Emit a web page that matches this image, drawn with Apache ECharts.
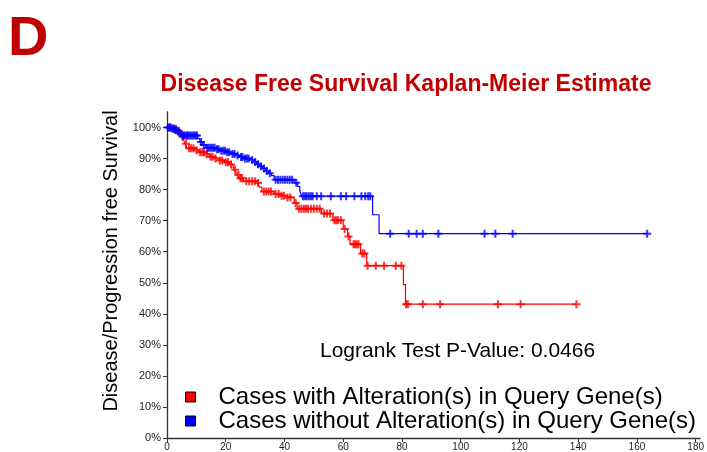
<!DOCTYPE html>
<html>
<head>
<meta charset="utf-8">
<script src="https://cdn.jsdelivr.net/npm/echarts@6/dist/echarts.min.js"></script>
<style>
html,body{margin:0;padding:0;background:#fff;}
#chart{width:707px;height:452px;}
</style>
</head>
<body>
<div id="chart"></div>
<script>
// ---- Data (months, survival %) ----
const xTicks = [0, 20, 40, 60, 80, 100, 120, 140, 160, 180];
const yTicks = [0, 10, 20, 30, 40, 50, 60, 70, 80, 90, 100];

// Cases with Alteration(s): step times and survival after each step
const redTimes = [0, 2.0, 3.5, 4.5, 5.0, 5.6, 6.2, 6.8, 9.5, 10.8, 13.0, 14.5, 16.0, 17.4, 19.5, 21.5, 22.5, 23.0, 23.5, 24.0, 24.6, 26.0, 30.8, 31.4, 32.3, 36.5, 38.5, 40.5, 43.3, 44.3, 52.6, 56.5, 60.0, 61.5, 62.3, 65.9, 68.0, 80.5, 81.2];
const redSurv  = [100, 99.6, 99.0, 98.0, 97.0, 96.0, 94.8, 93.3, 92.7, 92.0, 91.4, 90.6, 90.0, 89.4, 88.8, 88.1, 87.3, 86.4, 85.5, 84.7, 83.7, 82.7, 82.1, 80.8, 79.4, 78.6, 78.0, 77.5, 75.7, 73.8, 72.3, 70.1, 67.3, 64.9, 62.4, 59.4, 55.5, 49.4, 43.1];
const redEnd = 139.4;
const redCensored = [1.0, 2.5, 3.0, 4.0, 5.3, 6.5, 7.5, 8.2, 9.0, 10.0, 11.3, 12.0, 12.6, 13.5, 14.8, 15.5, 16.5, 18.0, 18.8, 20.0, 20.8, 21.8, 23.2, 24.3, 25.0, 25.5, 27.0, 28.0, 29.0, 30.0, 31.0, 33.0, 33.8, 34.6, 35.4, 37.0, 38.0, 39.0, 39.8, 41.0, 42.0, 43.8, 45.0, 45.8, 46.6, 47.3, 48.0, 49.0, 50.0, 51.0, 52.0, 53.5, 54.5, 55.5, 57.0, 57.6, 58.2, 59.2, 60.5, 61.8, 63.5, 64.0, 64.6, 65.2, 66.5, 67.2, 68.3, 71.1, 73.9, 77.9, 79.8, 81.4, 82.0, 87.1, 93.0, 112.7, 120.4, 139.4];

// Cases without Alteration(s)
const blueTimes = [0, 1.5, 2.5, 3.5, 4.3, 5.0, 10.5, 11.2, 12.0, 13.3, 16.5, 18.0, 20.0, 21.8, 23.5, 24.7, 26.0, 28.6, 29.5, 30.5, 31.4, 32.5, 33.7, 34.5, 35.5, 36.5, 43.3, 44.5, 45.2, 45.8, 70.0, 72.2];
const blueSurv  = [100, 99.7, 99.2, 98.7, 98.1, 97.4, 96.4, 95.3, 94.4, 93.5, 93.0, 92.5, 92.0, 91.5, 91.0, 90.5, 90.0, 89.5, 88.9, 88.2, 87.5, 86.8, 86.0, 85.3, 84.5, 83.2, 82.2, 81.0, 79.8, 77.9, 71.9, 65.8];
const blueEnd = 163.5;
const blueCensored = [0.3, 0.8, 1.2, 1.8, 2.2, 2.8, 3.2, 3.8, 4.6, 5.3, 5.8, 6.3, 6.8, 7.2, 7.7, 8.2, 8.8, 9.3, 9.8, 10.2, 11.6, 12.5, 13.7, 14.3, 15.0, 15.6, 16.2, 17.0, 17.6, 18.5, 19.2, 19.8, 20.5, 21.2, 22.3, 23.0, 24.0, 25.2, 25.7, 26.5, 27.2, 27.8, 29.0, 30.0, 31.0, 32.0, 33.0, 34.0, 35.0, 37.0, 37.8, 38.6, 39.4, 40.2, 41.0, 41.8, 42.6, 44.0, 46.3, 47.0, 47.6, 48.3, 49.0, 49.6, 51.0, 52.5, 55.8, 59.2, 61.0, 63.8, 66.2, 67.5, 68.5, 69.2, 76.0, 82.3, 85.0, 87.1, 92.4, 108.1, 111.8, 117.7, 163.5];

const seriesNames = ['Cases with Alteration(s) in Query Gene(s)', 'Cases without Alteration(s) in Query Gene(s)'];
const pValueText = 'Logrank Test P-Value: 0.0466';

// ---- helpers ----
function stepLine(times, surv, end) {
  const d = times.map((t, i) => [t, surv[i]]);
  d.push([end, surv[surv.length - 1]]);
  return d;
}
function survAt(times, surv, t) {
  let v = surv[0];
  for (let i = 0; i < times.length; i++) { if (times[i] <= t) v = surv[i]; }
  return v;
}
function censorPts(times, surv, cens) {
  return cens.map(t => [t, survAt(times, surv, t)]);
}

const FONT = '"Liberation Sans", Arial, Helvetica, sans-serif';
const RED = '#ff0000', BLUE = '#0000ff', DARKRED = '#c00000';
const plus = 'path://M3,0H5V3H8V5H5V8H3V5H0V3H3Z';

const chart = echarts.init(document.getElementById('chart'), null, {renderer: 'canvas'});
chart.setOption({
  animation: false,
  backgroundColor: '#ffffff',
  grid: {left: 167, right: 1.8, top: 112, bottom: 13, containLabel: false},
  xAxis: {
    type: 'value', min: 0, max: 181.5,
    axisLine: {show: true, lineStyle: {color: '#333', width: 1.3}},
    axisTick: {show: true, length: 4, lineStyle: {color: '#333'}, customValues: xTicks},
    axisLabel: {fontSize: 10, color: '#222', fontFamily: FONT, margin: 4, customValues: xTicks},
    splitLine: {show: false}
  },
  yAxis: {
    type: 'value', min: 0, max: 105,
    axisLine: {show: true, lineStyle: {color: '#333', width: 1.3}},
    axisTick: {show: true, length: 4, lineStyle: {color: '#333'}, customValues: yTicks},
    axisLabel: {fontSize: 11, color: '#222', fontFamily: FONT, margin: 6, customValues: yTicks, formatter: v => v + '%'},
    splitLine: {show: false}
  },
  legend: {
    data: seriesNames,
    orient: 'vertical', left: 185, top: 385, padding: 0,
    itemWidth: 10, itemHeight: 10, itemGap: 0, icon: 'rect',
    itemStyle: {borderColor: '#000', borderWidth: 1},
    textStyle: {fontSize: 24, fontFamily: FONT, color: '#000', lineHeight: 23, padding: [0, 0, 0, 18]},
    selectedMode: false
  },
  series: [
    {name: seriesNames[0], type: 'line', step: 'end', data: stepLine(redTimes, redSurv, redEnd), showSymbol: false, symbol: 'none', color: RED, lineStyle: {color: RED, width: 1.2}, z: 3},
    {name: seriesNames[1], type: 'line', step: 'end', data: stepLine(blueTimes, blueSurv, blueEnd), showSymbol: false, symbol: 'none', color: BLUE, lineStyle: {color: BLUE, width: 1.2}, z: 3},
    {name: 'redCens', type: 'scatter', data: censorPts(redTimes, redSurv, redCensored), symbol: plus, symbolSize: 8, itemStyle: {color: RED}, z: 4},
    {name: 'blueCens', type: 'scatter', data: censorPts(blueTimes, blueSurv, blueCensored), symbol: plus, symbolSize: 8, itemStyle: {color: BLUE}, z: 4}
  ],
  graphic: [
    {type: 'text', x: 8, y: 40, style: {text: 'D', font: 'bold 56px ' + FONT, fill: DARKRED, align: 'left', verticalAlign: 'middle'}},
    {type: 'text', x: 406, y: 85, style: {text: 'Disease Free Survival Kaplan-Meier Estimate', font: 'bold 23px ' + FONT, fill: DARKRED, align: 'center', verticalAlign: 'middle'}},
    {type: 'text', x: 111, y: 261, rotation: Math.PI / 2, style: {text: 'Disease/Progression free Survival', font: '20px ' + FONT, fill: '#000', align: 'center', verticalAlign: 'middle'}},
    {type: 'text', x: 320, y: 351, style: {text: pValueText, font: '21px ' + FONT, fill: '#000', align: 'left', verticalAlign: 'middle'}}
  ]
});
</script>
</body>
</html>
